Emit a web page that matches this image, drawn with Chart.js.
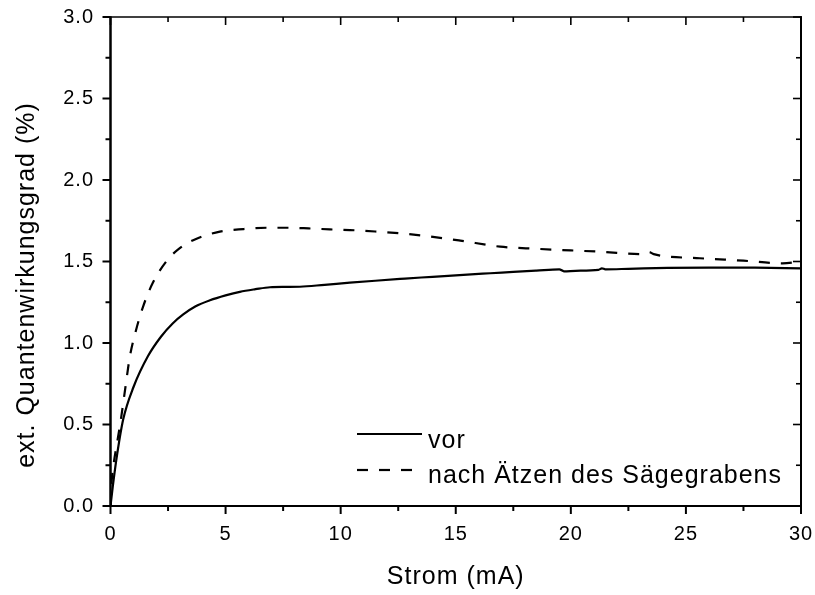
<!DOCTYPE html>
<html>
<head>
<meta charset="utf-8">
<script src="https://cdn.jsdelivr.net/npm/chart.js@4"></script>
<style>
  html, body { margin: 0; padding: 0; background: #fff; }
  canvas { display: block; }
</style>
</head>
<body>
<canvas id="c" width="815" height="595"></canvas>
<script>
// Strom (mA) und ext. Quantenwirkungsgrad (%) – vor dem Ätzen
const currentVor = [0, 0.1, 0.25, 0.55, 1.0, 1.63, 2.2, 2.7, 3.16, 3.7, 4.32, 5.0, 5.62, 6.3, 6.93, 7.6, 8.23, 9.3, 10.4, 11.5, 12.58, 13.5, 14.5, 15.5, 16.5, 17.5, 18.5, 19.5, 19.7, 20.2, 21.2, 21.35, 21.5, 22.5, 24.2, 26, 28, 30];
const eqeVor = [0, 0.12, 0.28, 0.53, 0.73, 0.92, 1.04, 1.12, 1.175, 1.225, 1.262, 1.292, 1.314, 1.33, 1.342, 1.344, 1.345, 1.357, 1.37, 1.382, 1.393, 1.402, 1.41, 1.42, 1.428, 1.436, 1.444, 1.452, 1.44, 1.443, 1.449, 1.458, 1.452, 1.455, 1.461, 1.463, 1.462, 1.458];

// nach Ätzen des Sägegrabens
const currentNach = [0, 0.05, 0.15, 0.3, 0.45, 0.65, 0.84, 1.1, 1.42, 1.85, 2.43, 3.01, 3.74, 4.75, 5.77, 6.78, 7.65, 8.6, 9.53, 10.4, 11.5, 12.58, 13.8, 15.2, 16.93, 18.5, 20, 21.3, 23.2, 23.4, 23.6, 25.6, 27.5, 29.2, 30];
const eqeNach = [0, 0.15, 0.27, 0.40, 0.53, 0.73, 0.916, 1.074, 1.225, 1.372, 1.502, 1.582, 1.64, 1.683, 1.699, 1.707, 1.707, 1.703, 1.697, 1.693, 1.684, 1.673, 1.655, 1.628, 1.591, 1.578, 1.568, 1.56, 1.545, 1.558, 1.545, 1.52, 1.505, 1.489, 1.50];

const seriesLabels = ['vor', 'nach Ätzen des Sägegrabens'];
const xMajorTicks = [0, 5, 10, 15, 20, 25, 30];
const xMinorTicks = [2.5, 7.5, 12.5, 17.5, 22.5, 27.5];
const yMajorTicks = [0, 0.5, 1.0, 1.5, 2.0, 2.5, 3.0];
const yMinorTicks = [0.25, 0.75, 1.25, 1.75, 2.25, 2.75];
const xTitle = 'Strom (mA)';
const yTitle = 'ext. Quantenwirkungsgrad (%)';

const FONT = '"Liberation Sans", Arial, Helvetica, sans-serif';

const toPoints = (xs, ys) => xs.map((v, i) => ({ x: v, y: ys[i] }));

// Frame, inward/outward tick marks, y title and legend
const framePlugin = {
  id: 'frame',
  beforeDraw(chart) {
    chart.ctx.letterSpacing = '1px';
  },
  afterDatasetsDraw(chart) {
    const { ctx, chartArea: a, scales: { x, y } } = chart;
    ctx.save();
    ctx.strokeStyle = '#000';
    ctx.lineCap = 'butt';
    ctx.setLineDash([]);

    const seg = (x1, y1, x2, y2, w) => {
      ctx.lineWidth = w;
      ctx.beginPath();
      ctx.moveTo(x1, y1);
      ctx.lineTo(x2, y2);
      ctx.stroke();
    };

    // axis box
    seg(a.left - 1.25, a.top, a.right + 1, a.top, 1.6);
    seg(a.right, a.top - 0.8, a.right, a.bottom + 1, 2);
    seg(a.left - 1.25, a.bottom, a.right + 1, a.bottom, 2);
    seg(a.left, a.top - 0.8, a.left, a.bottom + 1, 2.5);

    const MAJ = 8, MIN = 5;
    const xTicks = [...xMajorTicks.map(v => [v, MAJ]), ...xMinorTicks.map(v => [v, MIN])];
    const yTicks = [...yMajorTicks.map(v => [v, MAJ]), ...yMinorTicks.map(v => [v, MIN])];
    for (const [v, len] of xTicks) {
      const px = x.getPixelForValue(v);
      seg(px, a.bottom, px, a.bottom + len, 2);
      seg(px, a.top, px, a.top + len, 1.6);
    }
    for (const [v, len] of yTicks) {
      const py = y.getPixelForValue(v);
      seg(a.left, py, a.left - len, py, 2);
      seg(a.right, py, a.right - len, py, 1.6);
    }

    // y axis title
    ctx.fillStyle = '#000';
    ctx.font = '25px ' + FONT;
    ctx.letterSpacing = '1px';
    ctx.save();
    ctx.translate(27.5, 285);
    ctx.rotate(-Math.PI / 2);
    ctx.textAlign = 'center';
    ctx.textBaseline = 'middle';
    ctx.fillText(yTitle, 0, 0);
    ctx.restore();

    // legend
    const rows = [
      { lineY: 434, textY: 448 },
      { lineY: 470, textY: 483 }
    ];
    chart.data.datasets.forEach((ds, i) => {
      const r = rows[i];
      ctx.setLineDash(ds.borderDash || []);
      ctx.lineWidth = ds.borderWidth;
      ctx.beginPath();
      ctx.moveTo(357, r.lineY);
      ctx.lineTo(422, r.lineY);
      ctx.stroke();
      ctx.setLineDash([]);
      ctx.textAlign = 'left';
      ctx.textBaseline = 'alphabetic';
      ctx.fillText(ds.label, 428, r.textY);
    });
    ctx.restore();
  }
};

new Chart(document.getElementById('c'), {
  type: 'line',
  data: {
    datasets: [
      {
        label: seriesLabels[0],
        data: toPoints(currentVor, eqeVor),
        borderColor: '#000',
        borderWidth: 2.2,
        pointRadius: 0,
        cubicInterpolationMode: 'monotone',
        fill: false
      },
      {
        label: seriesLabels[1],
        data: toPoints(currentNach, eqeNach),
        borderColor: '#000',
        borderWidth: 2.2,
        borderDash: [11, 11],
        pointRadius: 0,
        cubicInterpolationMode: 'monotone',
        fill: false
      }
    ]
  },
  options: {
    responsive: false,
    devicePixelRatio: 1,
    animation: false,
    events: [],
    layout: { padding: { left: 0, top: 17, right: 14, bottom: 0 } },
    plugins: {
      legend: { display: false },
      tooltip: { enabled: false }
    },
    scales: {
      x: {
        type: 'linear',
        min: 0,
        max: 30,
        grid: { display: false, drawTicks: false },
        border: { display: false },
        afterBuildTicks: s => { s.ticks = xMajorTicks.map(v => ({ value: v })); },
        afterFit: s => { s.height = 89; s.paddingLeft = 0; s.paddingRight = 0; },
        ticks: {
          color: '#000',
          font: { family: FONT, size: 20 },
          padding: 16,
          maxRotation: 0,
          callback: v => String(v)
        },
        title: {
          display: true,
          text: xTitle,
          color: '#000',
          font: { family: FONT, size: 25 },
          padding: { top: 0, bottom: 2.5 }
        }
      },
      y: {
        type: 'linear',
        min: 0,
        max: 3,
        grid: { display: false, drawTicks: false },
        border: { display: false },
        afterBuildTicks: s => { s.ticks = yMajorTicks.map(v => ({ value: v })); },
        afterFit: s => { s.width = 110.5; s.paddingTop = 0; s.paddingBottom = 0; },
        ticks: {
          color: '#000',
          font: { family: FONT, size: 20 },
          padding: 16.5,
          callback: v => Number(v).toFixed(1)
        }
      }
    }
  },
  plugins: [framePlugin]
});
</script>
</body>
</html>
